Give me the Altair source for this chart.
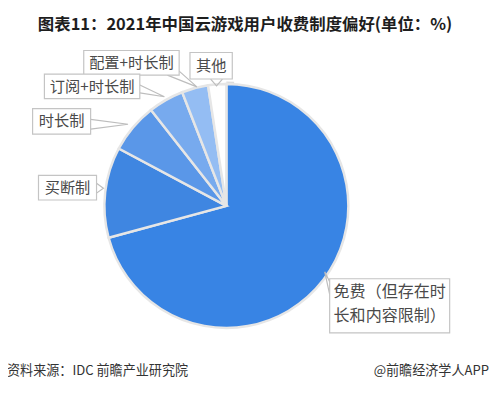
import altair as alt
import pandas as pd

# ---- data ----
categories = ["免费（但存在时长和内容限制）", "买断制", "时长制", "订阅+时长制", "配置+时长制", "其他"]
values = [70.8, 12.0, 6.6, 4.7, 3.5, 2.4]
colors = ["#3884e4", "#3f86e1", "#5a97e8", "#77aaee", "#94bdf3", "#ffffff"]

title_text = "图表11：2021年中国云游戏用户收费制度偏好(单位：%)"
source_text = "资料来源：IDC 前瞻产业研究院"
brand_text = "@前瞻经济学人APP"

# ---- layout (page pixels; converted to chart coords below) ----
OFF = 8
CX, CY, R = 230, 206, 124
FONT = "Noto Sans CJK SC"

label_lines = [
    ("配置+时长制", 133.5, 61, "center"),
    ("其他", 214.5, 64, "center"),
    ("订阅+时长制", 93.5, 85, "center"),
    ("时长制", 62.5, 120, "center"),
    ("买断制", 68.5, 188, "center"),
    ("免费（但存在时", 339, 294, "left"),
    ("长和内容限制）", 339, 318, "left"),
]
boxes = [
    (85, 48, 182, 73),
    (193, 50, 236, 77),
    (45, 72, 142, 97),
    (33, 107, 92, 133),
    (39, 175, 98, 200),
    (335, 280, 457, 335),
]
tails = [
    [(170, 73), (200, 85), (182, 69)],
    [(214, 77), (220, 84), (226, 77)],
    [(142, 83), (167, 95), (142, 91)],
    [(92, 118), (130, 123), (92, 128)],
    [(98, 183), (105, 188), (98, 193)],
    [(335, 283), (330, 273), (335, 296)],
]

df = pd.DataFrame({"cat": categories, "value": values, "idx": list(range(len(values)))})

ring = alt.Chart(pd.DataFrame({"v": [1]})).mark_arc(radius=R + 2.5, color="#dcdcdc").encode(
    theta=alt.Theta("v:Q"),
    x=alt.value(CX - OFF), y=alt.value(CY - OFF),
)

pie = alt.Chart(df).mark_arc(radius=R, stroke="#e6e6e6", strokeWidth=2.5).encode(
    theta=alt.Theta("value:Q", stack=True),
    order=alt.Order("idx:Q"),
    color=alt.Color("cat:N", scale=alt.Scale(domain=categories, range=colors), legend=None),
    x=alt.value(CX - OFF), y=alt.value(CY - OFF),
)

tail_rows = []
for i, pts in enumerate(tails):
    for j, (px, py) in enumerate(pts):
        tail_rows.append({"t": i, "o": j, "x": px - OFF, "y": py - OFF})
tail_layer = alt.Chart(pd.DataFrame(tail_rows)).mark_line(color="#bdbdbd", strokeWidth=1.2).encode(
    x=alt.X("x:Q", scale=None), y=alt.Y("y:Q", scale=None),
    detail="t:N", order="o:Q",
)

box_df = pd.DataFrame([{"x": a - OFF, "y": b - OFF, "x2": c - OFF, "y2": d - OFF} for a, b, c, d in boxes])
box_layer = alt.Chart(box_df).mark_rect(fill="white", stroke="#c4c4c4", strokeWidth=1.2).encode(
    x=alt.X("x:Q", scale=None), x2="x2:Q",
    y=alt.Y("y:Q", scale=None), y2="y2:Q",
)

lab_df = pd.DataFrame([{"text": t, "x": x - OFF, "y": y - OFF, "a": a} for t, x, y, a in label_lines])
lab_c = alt.Chart(lab_df[lab_df.a == "center"]).mark_text(
    font=FONT, fontSize=15.5, color="#4a4a4a", align="center", baseline="middle"
).encode(x=alt.X("x:Q", scale=None), y=alt.Y("y:Q", scale=None), text="text:N")
lab_l = alt.Chart(lab_df[lab_df.a == "left"]).mark_text(
    font=FONT, fontSize=16.3, color="#4a4a4a", align="left", baseline="middle"
).encode(x=alt.X("x:Q", scale=None), y=alt.Y("y:Q", scale=None), text="text:N")

title = alt.Chart(pd.DataFrame({"t": [title_text]})).mark_text(
    font=FONT, fontSize=16.7, fontWeight="bold", color="#1e1e1e", align="center", baseline="middle"
).encode(x=alt.value(249 - OFF), y=alt.value(22 - OFF), text="t:N")

src = alt.Chart(pd.DataFrame({"t": [source_text]})).mark_text(
    font=FONT, fontSize=13.3, color="#333333", align="left", baseline="middle"
).encode(x=alt.value(7 - OFF), y=alt.value(374 - OFF), text="t:N")

brand = alt.Chart(pd.DataFrame({"t": [brand_text]})).mark_text(
    font=FONT, fontSize=13.3, color="#333333", align="right", baseline="middle"
).encode(x=alt.value(497 - OFF), y=alt.value(374 - OFF), text="t:N")

chart = alt.layer(ring, pie, tail_layer, box_layer, lab_c, lab_l, title, src, brand).properties(
    width=490, height=387, padding=0, autosize=alt.AutoSizeParams(type="none")
).configure_view(stroke=None)

chart.save("out.html", embed_options={"renderer": "svg", "actions": False})
